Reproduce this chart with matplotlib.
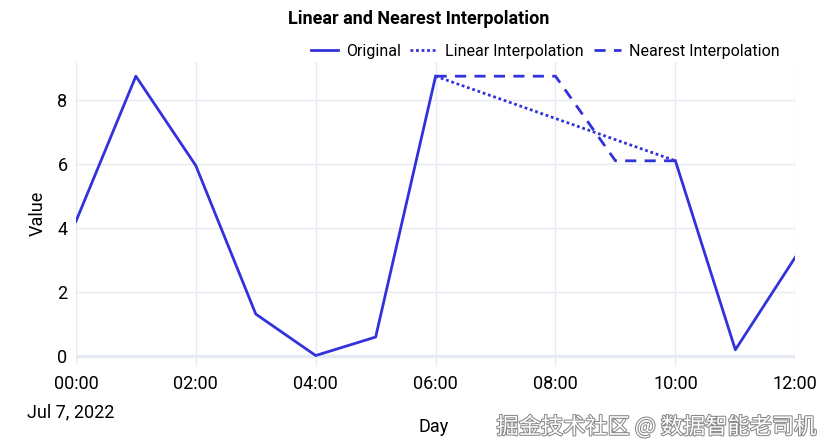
import numpy as np
import pandas as pd
import matplotlib
matplotlib.use('Agg')
import matplotlib.pyplot as plt
import matplotlib.dates as mdates
import matplotlib.patheffects as pe

plt.rcParams['font.family'] = ['Liberation Sans Narrow', 'Roboto', 'DejaVu Sans']

# hourly readings, gap 07:00-09:00
hours = pd.date_range('2022-07-07 00:00', '2022-07-07 12:00', freq='h')
values = [4.2, 8.75, 5.95, 1.3, 0.0, 0.58, 8.75, np.nan, np.nan, np.nan, 6.1, 0.18, 3.08]

s = pd.Series(values, index=hours)
linear = s.interpolate(method='linear')
nearest = s.copy()
nearest.iloc[7:10] = [8.75, 8.75, 6.1]  # nearest fill as in the figure

line_color = '#3232dc'
grid_color = '#e6eaf3'

fig = plt.figure(figsize=(8.25, 4.48), dpi=100)
ax = fig.add_axes([0.092, 0.185, 0.872, 0.677])

gap = slice(6, 11)
ax.plot(linear.index[gap], linear.values[gap], color=line_color, lw=2, ls=(0, (1, 1)), label='Linear Interpolation')
ax.plot(nearest.index[gap], nearest.values[gap], color=line_color, lw=2, ls=(0, (4, 3)), label='Nearest Interpolation')
ax.plot(s.index, s.values, color=line_color, lw=2, label='Original')

ax.set_xlim(hours[0], hours[-1])
ax.set_ylim(-0.3, 9.2)
ax.set_yticks([0, 2, 4, 6, 8])
ax.xaxis.set_major_locator(mdates.HourLocator(interval=2))
ax.xaxis.set_major_formatter(mdates.DateFormatter('%H:%M'))

for sp in ax.spines.values():
    sp.set_visible(False)
ax.grid(True, color=grid_color, lw=1)
ax.axhline(0, color=grid_color, lw=2.5, zorder=0.5)
ax.set_axisbelow(True)
ax.tick_params(length=0, labelsize=13, pad=6)
ax.tick_params(axis='x', pad=7)

ax.set_ylabel('Value', fontsize=13, labelpad=8)
fig.text(0.525, 0.035, 'Day', ha='center', fontsize=13)
fig.text(0.033, 0.068, 'Jul 7, 2022', ha='left', fontsize=13)

fig.text(0.508, 0.958, 'Linear and Nearest Interpolation', ha='center', va='center',
         fontsize=13, fontweight='bold')

h, l = ax.get_legend_handles_labels()
order = [2, 0, 1]
fig.legend([h[i] for i in order], [l[i] for i in order], loc='center right',
           bbox_to_anchor=(0.962, 0.886), ncol=3, frameon=False, fontsize=11.5,
           handlelength=1.7, columnspacing=0.6, handletextpad=0.5)

fig.text(0.99, 0.032, '掘金技术社区 @ 数据智能老司机', ha='right', fontsize=16,
         color='white', family=['Noto Sans CJK SC', 'DejaVu Sans'],
         path_effects=[pe.withStroke(linewidth=1.5, foreground='#888888')])

fig.savefig('out.png', dpi=100)
